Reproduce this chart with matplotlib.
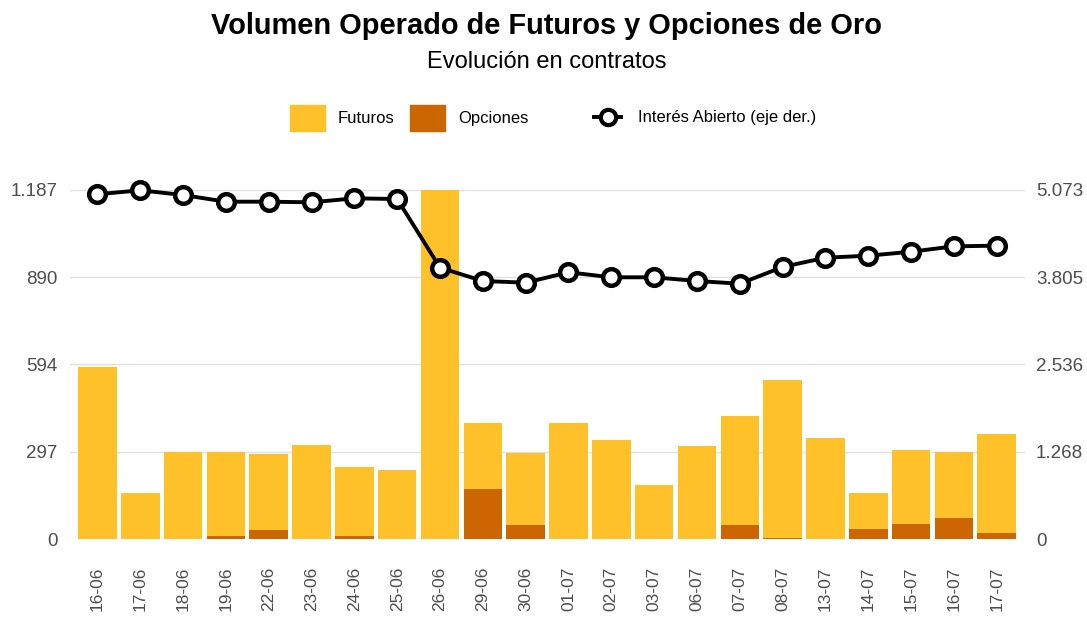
import matplotlib
matplotlib.use("Agg")
import matplotlib.pyplot as plt
from matplotlib.patches import Patch
from matplotlib.lines import Line2D
from matplotlib.ticker import FuncFormatter

plt.rcParams["font.family"] = ["Liberation Sans", "DejaVu Sans"]

fechas = ["16-06", "17-06", "18-06", "19-06", "22-06", "23-06", "24-06", "25-06",
          "26-06", "29-06", "30-06", "01-07", "02-07", "03-07", "06-07", "07-07",
          "08-07", "13-07", "14-07", "15-07", "16-07", "17-07"]

# totales, opciones abajo y futuros encima
opciones = [0, 0, 0, 11, 32, 0, 11, 0, 0, 170, 47, 0, 0, 0, 0, 46, 2, 0, 34, 51, 71, 19]
totales = [584, 156, 296, 295, 289, 319, 246, 234, 1187, 394, 292, 393, 336, 183, 316,
           417, 540, 343, 155, 303, 297, 356]
futuros = [t - o for t, o in zip(totales, opciones)]

interes = [5011, 5069, 5000, 4903, 4903, 4894, 4952, 4942, 3944, 3750, 3726, 3877, 3804,
           3804, 3750, 3711, 3954, 4089, 4118, 4176, 4254, 4264]

ticks_izq = [0, 297, 594, 890, 1187]
ticks_der = [0, 1268, 2536, 3805, 5073]

AMARILLO = "#FFC12A"
NARANJA = "#CC6600"
GRIS = "#4D4D4D"


def miles(v, pos):
    return f"{int(round(v)):,}".replace(",", ".")


fig = plt.figure(figsize=(10.87, 6.17), dpi=100)
ax = fig.add_axes([70 / 1087, 1 - 539 / 617, 955 / 1087, 349 / 617])
x = range(len(fechas))

ax.bar(x, opciones, width=0.9, color=NARANJA, zorder=2)
ax.bar(x, futuros, width=0.9, bottom=opciones, color=AMARILLO, zorder=2)

ax.set_ylim(0, 1187)
ax.set_xlim(-0.64, 21.66)
ax.set_yticks(ticks_izq)
ax.yaxis.set_major_formatter(FuncFormatter(miles))
ax.grid(axis="y", color="#E0E0E0", linewidth=1, zorder=0)
ax.set_xticks(list(x))
ax.set_xticklabels(fechas, rotation=90)
ax.tick_params(axis="x", length=0, pad=20, labelsize=12.5, labelcolor=GRIS)
ax.tick_params(axis="y", length=0, pad=9, labelsize=13.5, labelcolor=GRIS)
for s in ax.spines.values():
    s.set_visible(False)

ax2 = ax.twinx()
ax2.plot(x, interes, color="black", linewidth=2.8, marker="o", markersize=12,
         markerfacecolor="white", markeredgecolor="black", markeredgewidth=3.2,
         clip_on=False, zorder=5)
ax2.set_ylim(0, 5073)
ax2.set_yticks(ticks_der)
ax2.yaxis.set_major_formatter(FuncFormatter(miles))
ax2.tick_params(axis="y", length=0, pad=8, labelsize=13.5, labelcolor=GRIS)
for s in ax2.spines.values():
    s.set_visible(False)

fig.text(0.503, 1 - 26 / 617, "Volumen Operado de Futuros y Opciones de Oro",
         ha="center", va="center", fontsize=20.9, fontweight="bold")
fig.text(0.503, 1 - 62 / 617, "Evolución en contratos",
         ha="center", va="center", fontsize=17)

barras = [Patch(color=AMARILLO), Patch(color=NARANJA)]
fig.legend(barras, ["Futuros", "Opciones"], loc="center", ncol=2,
           bbox_to_anchor=(409 / 1087, 1 - 118 / 617), frameon=False, fontsize=12,
           handlelength=2.1, handleheight=2.1, handletextpad=0.8, columnspacing=0.9)
linea = [Line2D([0], [0], color="black", linewidth=2.8, marker="o", markersize=11,
                markerfacecolor="white", markeredgecolor="black", markeredgewidth=3)]
fig.legend(linea, ["Interés Abierto (eje der.)"], loc="center",
           bbox_to_anchor=(705 / 1087, 1 - 118 / 617), frameon=False, fontsize=12,
           handlelength=1.6, handletextpad=1.0)

fig.savefig("out.png", dpi=100)
